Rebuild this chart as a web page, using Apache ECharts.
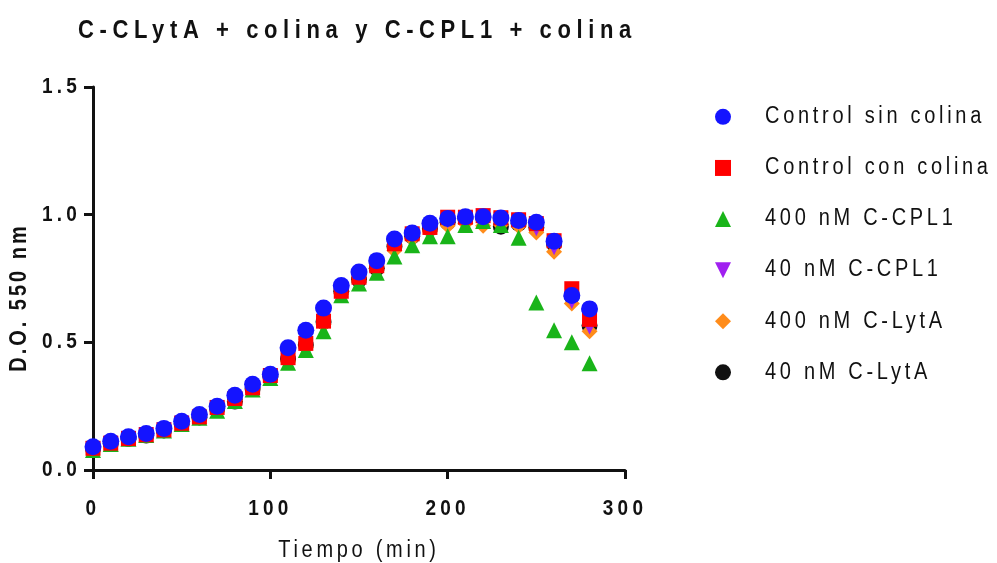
<!DOCTYPE html>
<html>
<head>
<meta charset="utf-8">
<title>C-CLytA + colina y C-CPL1 + colina</title>
<script src="https://cdn.jsdelivr.net/npm/echarts@6/dist/echarts.min.js"></script>
<style>
  html, body { margin: 0; padding: 0; background: #ffffff; }
  #chart { width: 997px; height: 563px; }
</style>
</head>
<body>
<div id="chart"></div>
<script>
// Sampling times (min)
const tiempo = [0, 10, 20, 30, 40, 50, 60, 70, 80, 90, 100, 110, 120, 130, 140,
  150, 160, 170, 180, 190, 200, 210, 220, 230, 240, 250, 260, 270, 280];

// D.O. 550 nm per condition
const controlSinColina = [0.091, 0.113, 0.130, 0.143, 0.163, 0.191, 0.217, 0.250, 0.293, 0.336,
  0.375, 0.479, 0.547, 0.634, 0.723, 0.775, 0.820, 0.905, 0.928, 0.966,
  0.985, 0.992, 0.992, 0.987, 0.977, 0.970, 0.896, 0.683, 0.631];
const controlConColina = [0.085, 0.105, 0.123, 0.138, 0.157, 0.183, 0.208, 0.245, 0.280, 0.322,
  0.370, 0.440, 0.496, 0.583, 0.700, 0.755, 0.800, 0.886, 0.925, 0.950,
  0.990, 0.990, 0.996, 0.988, 0.980, 0.965, 0.898, 0.710, 0.590];
const cpl1_400 = [0.078, 0.102, 0.122, 0.137, 0.155, 0.180, 0.205, 0.232, 0.270, 0.315,
  0.360, 0.420, 0.470, 0.543, 0.684, 0.730, 0.773, 0.836, 0.880, 0.915,
  0.915, 0.960, 0.975, 0.960, 0.910, 0.656, 0.547, 0.500, 0.418];
const cpl1_40 = [0.082, 0.104, 0.124, 0.139, 0.158, 0.184, 0.207, 0.240, 0.275, 0.318,
  0.365, 0.430, 0.485, 0.575, 0.695, 0.745, 0.790, 0.870, 0.915, 0.945,
  0.975, 0.985, 0.995, 0.980, 0.970, 0.945, 0.870, 0.660, 0.560];
const lytA_400 = [0.080, 0.103, 0.122, 0.137, 0.156, 0.182, 0.205, 0.240, 0.272, 0.318,
  0.362, 0.425, 0.480, 0.570, 0.690, 0.740, 0.785, 0.860, 0.905, 0.935,
  0.957, 0.965, 0.957, 0.960, 0.955, 0.930, 0.855, 0.652, 0.543];
const lytA_40 = [0.083, 0.104, 0.122, 0.135, 0.155, 0.180, 0.206, 0.240, 0.268, 0.318,
  0.366, 0.435, 0.490, 0.580, 0.700, 0.745, 0.790, 0.875, 0.915, 0.945,
  0.970, 0.985, 0.990, 0.953, 0.965, 0.950, 0.885, 0.680, 0.566];

const xTicks = [0, 100, 200, 300];
const yTicks = [0.0, 0.5, 1.0, 1.5];

// Wide tracking and slightly tall glyphs for the typeface,
// applied to both measuring and drawing so layout stays consistent
(function () {
  const P = CanvasRenderingContext2D.prototype;
  if (!('letterSpacing' in P)) return;
  const TRACKING = { '22b': 5.6, '19b': 4.2, '20b': 3, '20': 3.7 };
  const STRETCH = 1.15;
  function spacing(font) {
    const m = /(\d+(?:\.\d+)?)px/.exec(font);
    const size = m ? Math.round(parseFloat(m[1])) : 12;
    const bold = /bold|[6-9]00/.test(font);
    const v = TRACKING[size + (bold ? 'b' : '')];
    return (v || 0) + 'px';
  }
  const fill = P.fillText, measure = P.measureText;
  P.fillText = function (t, x, y, w) {
    this.letterSpacing = spacing(this.font);
    this.save();
    this.translate(x, y);
    this.scale(1, STRETCH);
    const r = w === undefined ? fill.call(this, t, 0, 0) : fill.call(this, t, 0, 0, w);
    this.restore();
    return r;
  };
  P.measureText = function (t) {
    this.letterSpacing = spacing(this.font);
    return measure.call(this, t);
  };
})();

const FONT = 'Liberation Sans, Arial, sans-serif';
const INK = '#111111';
const DOWN_TRIANGLE = 'path://M0,0 L10,0 L5,10 Z';

function pairs(ys) { return tiempo.map((t, i) => [t, ys[i]]); }

// Drawn back to front: the first condition of the legend ends up on top
const seriesDefs = [
  { name: '40 nM C-LytA', data: lytA_40, symbol: 'circle', size: 16, color: '#111111' },
  { name: '400 nM C-LytA', data: lytA_400, symbol: 'diamond', size: 16, color: '#ff8c1a' },
  { name: '40 nM C-CPL1', data: cpl1_40, symbol: DOWN_TRIANGLE, size: 15, color: '#a020f0' },
  { name: '400 nM C-CPL1', data: cpl1_400, symbol: 'triangle', size: 16, color: '#19b419' },
  { name: 'Control con colina', data: controlConColina, symbol: 'rect', size: 15, color: '#ff0000' },
  { name: 'Control sin colina', data: controlSinColina, symbol: 'circle', size: 17, color: '#1414ff' }
];

const legendOrder = ['Control sin colina', 'Control con colina', '400 nM C-CPL1',
  '40 nM C-CPL1', '400 nM C-LytA', '40 nM C-LytA'];

const chart = echarts.init(document.getElementById('chart'), null, { renderer: 'canvas' });

chart.setOption({
  animation: false,
  backgroundColor: '#ffffff',
  textStyle: { fontFamily: FONT },
  title: {
    text: 'C-CLytA + colina y C-CPL1 + colina',
    left: 78,
    top: 17,
    padding: 0,
    textStyle: { fontFamily: FONT, fontSize: 22, fontWeight: 'bold', color: INK }
  },
  legend: {
    orient: 'vertical',
    left: 715,
    top: 105,
    itemWidth: 16,
    itemHeight: 16,
    itemGap: 27.4,
    padding: 0,
    data: legendOrder.map(name => {
      const def = seriesDefs.find(d => d.name === name);
      return { name: name, icon: def.symbol };
    }),
    textStyle: { fontFamily: FONT, fontSize: 20, color: INK, padding: [0, 0, 0, 29] }
  },
  grid: { left: 93, top: 87, width: 532, height: 383, containLabel: false, outerBoundsMode: 'none' },
  xAxis: {
    type: 'value',
    min: xTicks[0],
    max: xTicks[xTicks.length - 1],
    interval: xTicks[1] - xTicks[0],
    name: 'Tiempo (min)',
    nameLocation: 'middle',
    nameGap: 69,
    nameTextStyle: { fontFamily: FONT, fontSize: 20, color: INK },
    axisLine: { onZero: false, lineStyle: { color: INK, width: 3 } },
    axisTick: { show: true, length: 9, lineStyle: { color: INK, width: 3 } },
    axisLabel: { margin: 27, fontFamily: FONT, fontSize: 19, fontWeight: 'bold', color: INK },
    splitLine: { show: false }
  },
  yAxis: {
    type: 'value',
    min: yTicks[0],
    max: yTicks[yTicks.length - 1],
    interval: yTicks[1] - yTicks[0],
    name: 'D.O. 550 nm',
    nameLocation: 'middle',
    nameGap: 52,
    nameTextStyle: { fontFamily: FONT, fontSize: 20, fontWeight: 'bold', color: INK, padding: [0, 38, 0, 0] },
    axisLine: { show: true, onZero: false, lineStyle: { color: INK, width: 3 } },
    axisTick: { show: true, length: 9, lineStyle: { color: INK, width: 3 } },
    axisLabel: {
      margin: 12, fontFamily: FONT, fontSize: 19, fontWeight: 'bold', color: INK,
      formatter: v => v.toFixed(1)
    },
    splitLine: { show: false }
  },
  series: seriesDefs.map(d => ({
    name: d.name,
    type: 'scatter',
    data: pairs(d.data),
    symbol: d.symbol,
    symbolSize: d.size,
    itemStyle: { color: d.color, opacity: 1 },
    emphasis: { disabled: true }
  }))
});
</script>
</body>
</html>
